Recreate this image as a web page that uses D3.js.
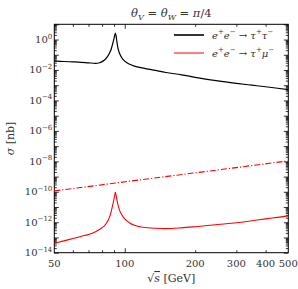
<!DOCTYPE html>
<html>
<head>
<meta charset="utf-8">
<script src="https://cdn.jsdelivr.net/npm/d3@7"></script>
<style>
  body { margin: 0; background: #fff; }
  svg { display: block; font-family: "DejaVu Serif", "Liberation Serif", serif; }
  .axis path, .axis line { stroke: #000; stroke-width: 0.8; }
</style>
</head>
<body>
<div id="chart"></div>
<script>
// sqrt(s) in GeV
var sqrtS = [50, 55, 60, 65, 70, 75, 78, 80, 82, 84, 86, 87.5, 89, 90, 90.6, 91.2, 91.8, 92.5, 93.5, 95, 97,
             100, 105, 110, 120, 135, 150, 175, 200, 250, 300, 350, 400, 450, 500];
// e+e- -> tau+ tau- [nb]
var sigmaTauTau = [4.0e-2, 3.6e-2, 3.4e-2, 3.2e-2, 2.95e-2, 2.75e-2, 3.0e-2, 3.55e-2, 4.5e-2, 6.9e-2, 1.26e-1, 2.3e-1,
                   6.0e-1, 1.2, 1.86, 2.63, 1.78, 7.9e-1, 2.8e-1, 1.26e-1, 6.6e-2,
                   3.8e-2, 2.35e-2, 1.78e-2, 1.32e-2, 9.3e-3, 6.8e-3, 4.8e-3, 3.3e-3, 1.9e-3, 1.32e-3, 1.0e-3, 7.9e-4, 6.3e-4, 5.1e-4];
// e+e- -> tau+ mu- [nb]
var sigmaTauMu = [4.2e-14, 6.0e-14, 8.5e-14, 1.17e-13, 1.58e-13, 2.4e-13, 3.3e-13, 4.4e-13, 6.0e-13, 1.0e-12, 2.1e-12, 5.0e-12,
                  1.58e-11, 3.5e-11, 6.0e-11, 9.3e-11, 6.0e-11, 3.2e-11, 1.41e-11, 6.3e-12, 3.2e-12,
                  1.66e-12, 8.9e-13, 6.3e-13, 4.7e-13, 4.0e-13, 3.8e-13, 4.3e-13, 5.1e-13, 7.1e-13, 9.3e-13, 1.26e-12, 1.66e-12, 2.1e-12, 2.6e-12];
// dash-dot straight line
var sqrtSLine = [50, 500];
var sigmaLine = [1.15e-10, 1.07e-8];

var xTickLabels = [50, 100, 200, 300, 400, 500];
var xMinorTicks = [60, 70, 80, 90];
var yLabelExps = [0, -2, -4, -6, -8, -10, -12, -14];

var width = 298, height = 289;
var padding = {left: 54.3, right: 9.7, top: 24.3, bottom: 36.3};
var w = width - padding.left - padding.right;
var h = height - padding.top - padding.bottom;

var xScale = d3.scaleLog().domain([50, 500]).range([0, w]);
var yScale = d3.scaleLog().domain([1e-14, 1e1]).range([h, 0]);

var svg = d3.select("#chart").append("svg")
    .attr("width", width)
    .attr("height", height);

var g = svg.append("g")
    .attr("transform", "translate(" + padding.left + "," + padding.top + ")");

// y tick values
var yMajor = d3.range(-14, 2).map(function(e){ return Math.pow(10, e); });
var yMinor = [];
d3.range(-14, 1).forEach(function(e){
    for (var k = 2; k <= 9; k++) yMinor.push(k * Math.pow(10, e));
});

function tickAxis(axis, size, vals) {
    return axis.tickValues(vals).tickSizeInner(size).tickSizeOuter(0).tickFormat("");
}

// minor + major ticks on all four sides (inside)
g.append("g").attr("class", "axis").attr("transform", "translate(0," + h + ")")
    .call(tickAxis(d3.axisBottom(xScale), -2.5, xMinorTicks.concat([200, 300, 400])));
g.append("g").attr("class", "axis").attr("transform", "translate(0," + h + ")")
    .call(tickAxis(d3.axisBottom(xScale), -4.5, [100]));
g.append("g").attr("class", "axis")
    .call(tickAxis(d3.axisTop(xScale), -2.5, xMinorTicks.concat([200, 300, 400])));
g.append("g").attr("class", "axis")
    .call(tickAxis(d3.axisTop(xScale), -4.5, [100]));
g.append("g").attr("class", "axis")
    .call(tickAxis(d3.axisLeft(yScale), -2.5, yMinor));
g.append("g").attr("class", "axis")
    .call(tickAxis(d3.axisLeft(yScale), -4.5, yMajor));
g.append("g").attr("class", "axis").attr("transform", "translate(" + w + ",0)")
    .call(tickAxis(d3.axisRight(yScale), -2.5, yMinor));
g.append("g").attr("class", "axis").attr("transform", "translate(" + w + ",0)")
    .call(tickAxis(d3.axisRight(yScale), -4.5, yMajor));

g.selectAll(".axis path").remove();

// frame
g.append("rect")
    .attr("width", w).attr("height", h)
    .attr("fill", "none").attr("stroke", "#000").attr("stroke-width", 1);

// x labels
g.selectAll(".xlab")
    .data(xTickLabels)
    .enter().append("text")
    .attr("class", "xlab")
    .attr("x", function(d){ return xScale(d); })
    .attr("y", h + 14.5)
    .attr("text-anchor", "middle")
    .attr("font-size", 10)
    .attr("fill", "#333")
    .text(function(d){ return d; });

// y labels 10^n
var yl = g.selectAll(".ylab")
    .data(yLabelExps)
    .enter().append("text")
    .attr("class", "ylab")
    .attr("x", -2)
    .attr("y", function(d){ return yScale(Math.pow(10, d)) + 3.5; })
    .attr("text-anchor", "end")
    .attr("font-size", 10)
    .attr("fill", "#333");
yl.append("tspan").text("10");
yl.append("tspan")
    .attr("dy", -4.5)
    .attr("font-size", 7)
    .text(function(d){ return d < 0 ? "\u2212" + (-d) : d; });

// curves
var line = d3.line()
    .x(function(d){ return xScale(d[0]); })
    .y(function(d){ return yScale(d[1]); })
    .curve(d3.curveMonotoneX);

g.append("path")
    .datum(d3.zip(sqrtS, sigmaTauTau))
    .attr("fill", "none").attr("stroke", "#000").attr("stroke-width", 1.2)
    .attr("d", line);

g.append("path")
    .datum(d3.zip(sqrtS, sigmaTauMu))
    .attr("fill", "none").attr("stroke", "#f00").attr("stroke-width", 1.1)
    .attr("d", line);

g.append("path")
    .datum(d3.zip(sqrtSLine, sigmaLine))
    .attr("fill", "none").attr("stroke", "#f00").attr("stroke-width", 1.1)
    .attr("stroke-dasharray", "6,2,1.2,2")
    .attr("d", d3.line()
        .x(function(d){ return xScale(d[0]); })
        .y(function(d){ return yScale(d[1]); }));

// legend
var legend = [
    {color: "#000", lw: 1.6, lep: "\u03c4"},
    {color: "#f00", lw: 1, lep: "\u03bc"}
];
var lg = svg.append("g");
legend.forEach(function(d, i){
    var y = 35 + i * 18;
    lg.append("line")
        .attr("x1", 174).attr("x2", 204).attr("y1", y).attr("y2", y)
        .attr("stroke", d.color).attr("stroke-width", d.lw);
    var t = lg.append("text")
        .attr("x", 212).attr("y", y + 3.5)
        .attr("font-size", 10).attr("fill", "#333");
    t.append("tspan").attr("font-style", "italic").text("e");
    t.append("tspan").attr("dy", -4.5).attr("font-size", 7).text("+");
    t.append("tspan").attr("dy", 4.5).attr("font-style", "italic").text("e");
    t.append("tspan").attr("dy", -4.5).attr("font-size", 7).text("\u2212");
    t.append("tspan").attr("dy", 4.5).text(" \u2192 ");
    t.append("tspan").attr("font-style", "italic").text("\u03c4");
    t.append("tspan").attr("dy", -4.5).attr("font-size", 7).text("+");
    t.append("tspan").attr("dy", 4.5).attr("font-style", "italic").text(d.lep);
    t.append("tspan").attr("dy", -4.5).attr("font-size", 7).text("\u2212");
});

// title
var title = svg.append("text")
    .attr("x", padding.left + w / 2).attr("y", 17)
    .attr("text-anchor", "middle")
    .attr("font-size", 11.5).attr("fill", "#333");
title.append("tspan").attr("font-style", "italic").text("\u03b8");
title.append("tspan").attr("dy", 2.5).attr("font-size", 8).attr("font-style", "italic").text("V");
title.append("tspan").attr("dy", -2.5).text(" = ");
title.append("tspan").attr("font-style", "italic").text("\u03b8");
title.append("tspan").attr("dy", 2.5).attr("font-size", 8).attr("font-style", "italic").text("W");
title.append("tspan").attr("dy", -2.5).text(" = ");
title.append("tspan").attr("font-style", "italic").text("\u03c0");
title.append("tspan").text("/4");

// x axis title
var xt = svg.append("text")
    .attr("x", padding.left + w / 2).attr("y", 282)
    .attr("text-anchor", "middle")
    .attr("font-size", 11).attr("fill", "#333");
xt.append("tspan").text("\u221a");
xt.append("tspan").attr("font-style", "italic").attr("text-decoration", "overline").text("s");
xt.append("tspan").text(" [GeV]");

// y axis title
svg.append("text")
    .attr("transform", "translate(14," + (padding.top + h / 2) + ") rotate(-90)")
    .attr("text-anchor", "middle")
    .attr("font-size", 11).attr("fill", "#333")
    .call(function(t){
        t.append("tspan").attr("font-style", "italic").text("\u03c3");
        t.append("tspan").text(" [nb]");
    });
</script>
</body>
</html>
